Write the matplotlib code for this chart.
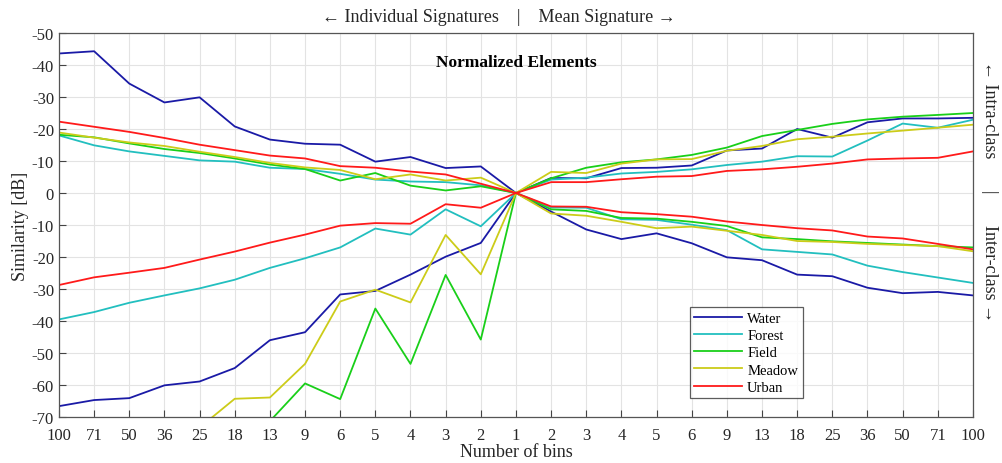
import matplotlib
matplotlib.use("Agg")
import matplotlib.pyplot as plt
from matplotlib.ticker import FuncFormatter, MultipleLocator
import numpy as np

plt.rcParams['font.family'] = ['Liberation Serif', 'DejaVu Serif']

bins = ["100", "71", "50", "36", "25", "18", "13", "9", "6", "5", "4", "3", "2", "1",
        "2", "3", "4", "5", "6", "9", "13", "18", "25", "36", "50", "71", "100"]
classes = ["Water", "Forest", "Field", "Meadow", "Urban"]
colors = ["#1a1aa6", "#22bfbf", "#19cf19", "#cccc19", "#ff1a1a"]

# Intra-class similarity [dB] (upper half of the chart)
water_intra = [-43.6, -44.3, -34.2, -28.3, -29.9, -20.8, -16.7, -15.4, -15.1, -9.8, -11.25, -7.8, -8.3, 0,
               -4.7, -4.6, -7.8, -7.9, -8.6, -13.3, -13.9, -20.0, -17.3, -22.1, -23.3, -23.3, -23.5]
forest_intra = [-18.0, -14.9, -13.0, -11.6, -10.2, -9.8, -7.9, -7.5, -6.0, -4.2, -3.6, -3.4, -2.4, 0,
                -4.2, -4.8, -6.1, -6.6, -7.4, -8.75, -9.8, -11.5, -11.4, -16.4, -21.7, -20.4, -22.9]
field_intra = [-18.2, -17.4, -15.5, -13.75, -12.5, -10.8, -8.9, -7.5, -3.9, -6.25, -2.3, -0.8, -2.1, 0,
               -4.6, -7.9, -9.6, -10.5, -11.9, -14.2, -17.8, -19.7, -21.6, -23.0, -23.85, -24.4, -25.0]
meadow_intra = [-18.9, -17.3, -15.8, -14.7, -12.9, -11.25, -9.4, -8.0, -7.2, -4.3, -5.8, -3.9, -4.8, 0,
                -6.6, -6.25, -9.2, -10.5, -10.6, -13.2, -14.7, -16.8, -17.6, -18.6, -19.5, -20.4, -21.35]
urban_intra = [-22.3, -20.7, -19.1, -17.2, -15.1, -13.4, -11.7, -10.8, -8.4, -7.9, -6.7, -5.8, -2.9, 0,
               -3.4, -3.4, -4.3, -5.1, -5.3, -6.9, -7.4, -8.2, -9.2, -10.5, -10.8, -11.0, -13.0]

# Inter-class similarity [dB] (lower half of the chart)
water_inter = [-66.6, -64.7, -64.1, -60.1, -58.9, -54.7, -46.0, -43.5, -31.7, -30.6, -25.5, -19.9, -15.6, 0,
               -5.8, -11.4, -14.4, -12.6, -15.7, -20.1, -21.0, -25.5, -26.0, -29.6, -31.3, -30.9, -32.0]
forest_inter = [-39.5, -37.2, -34.3, -32.0, -29.8, -27.1, -23.4, -20.4, -17.0, -11.1, -13.0, -5.1, -10.4, 0,
                -4.5, -4.6, -8.2, -8.4, -9.9, -11.6, -17.6, -18.4, -19.2, -22.7, -24.7, -26.4, -28.1]
field_inter = [-90.0, -88.0, -85.0, -82.0, -78.0, -75.0, -71.3, -59.5, -64.4, -36.1, -53.4, -25.6, -45.8, 0,
               -5.1, -5.6, -7.8, -8.0, -9.0, -10.3, -13.85, -14.4, -15.1, -15.6, -16.1, -16.6, -17.0]
meadow_inter = [-85.0, -82.0, -79.0, -76.0, -73.3, -64.3, -63.9, -53.4, -33.9, -30.2, -34.2, -13.1, -25.4, 0,
                -6.4, -7.1, -9.0, -11.0, -10.5, -11.8, -13.1, -15.0, -15.3, -15.9, -16.25, -16.6, -18.2]
urban_inter = [-28.75, -26.35, -24.9, -23.4, -20.8, -18.3, -15.5, -13.0, -10.2, -9.4, -9.6, -3.5, -4.6, 0,
               -4.2, -4.3, -6.0, -6.6, -7.4, -8.9, -10.0, -11.0, -11.7, -13.6, -14.2, -15.9, -17.6]

intra = [water_intra, forest_intra, field_intra, meadow_intra, urban_intra]
inter = [water_inter, forest_inter, field_inter, meadow_inter, urban_inter]

fig = plt.figure(figsize=(10.03, 4.64), dpi=100)
ax = fig.add_axes([0.0588, 0.0991, 0.9112, 0.8276])

x = np.arange(len(bins))
handles = []
for name, col, a, b in zip(classes, colors, intra, inter):
    h, = ax.plot(x, -np.array(a), color=col, lw=1.3, label=name)
    ax.plot(x, np.array(b), color=col, lw=1.3)
    handles.append(h)

ax.set_xlim(0, len(bins) - 1)
ax.set_ylim(-70, 50)
ax.set_xticks(x)
ax.set_xticklabels(bins)
ax.yaxis.set_major_locator(MultipleLocator(10))
ax.yaxis.set_major_formatter(FuncFormatter(lambda v, p: "0" if abs(v) < 1e-9 else "%d" % (-abs(v))))

ax.grid(True, color="#e3e3e3", lw=0.8)
ax.set_axisbelow(True)
for s in ax.spines.values():
    s.set_color("#555555")
    s.set_linewidth(0.9)
ax.tick_params(axis="both", direction="in", length=5, width=0.8, color="#444444",
               labelsize=12, labelcolor="#262626", top=False, right=False)
ax.tick_params(axis="x", pad=7)

ax.set_xlabel("Number of bins", fontsize=13, color="#262626", labelpad=0)
ax.set_ylabel("Similarity [dB]", fontsize=13, color="#262626", labelpad=2)

ax.text(0.5, 0.925, "Normalized Elements", transform=ax.transAxes, ha="center", va="center",
        fontsize=12.5, fontweight="bold", color="black")

fig.text(0.497, 1 - 18 / 464, "\u2190 Individual Signatures    |    Mean Signature \u2192",
         ha="center", va="center", fontsize=13, color="#262626",
         family=["Liberation Serif", "DejaVu Serif"])
fig.text(990 / 1003, 1 - 192 / 464, "\u2190 Intra-class       |       Inter-class \u2192",
         ha="center", va="center", rotation=-90, fontsize=13, color="#262626",
         family=["Liberation Serif", "DejaVu Serif"])

leg = ax.legend(handles=handles, loc="lower left", bbox_to_anchor=(0.690, 0.049),
                fontsize=10.5, frameon=True, fancybox=False, edgecolor="#333333",
                handlelength=3.3, handletextpad=0.35, borderpad=0.3, labelspacing=0.28,
                borderaxespad=0)
leg.get_frame().set_linewidth(0.9)

fig.savefig("out.png", dpi=100)
